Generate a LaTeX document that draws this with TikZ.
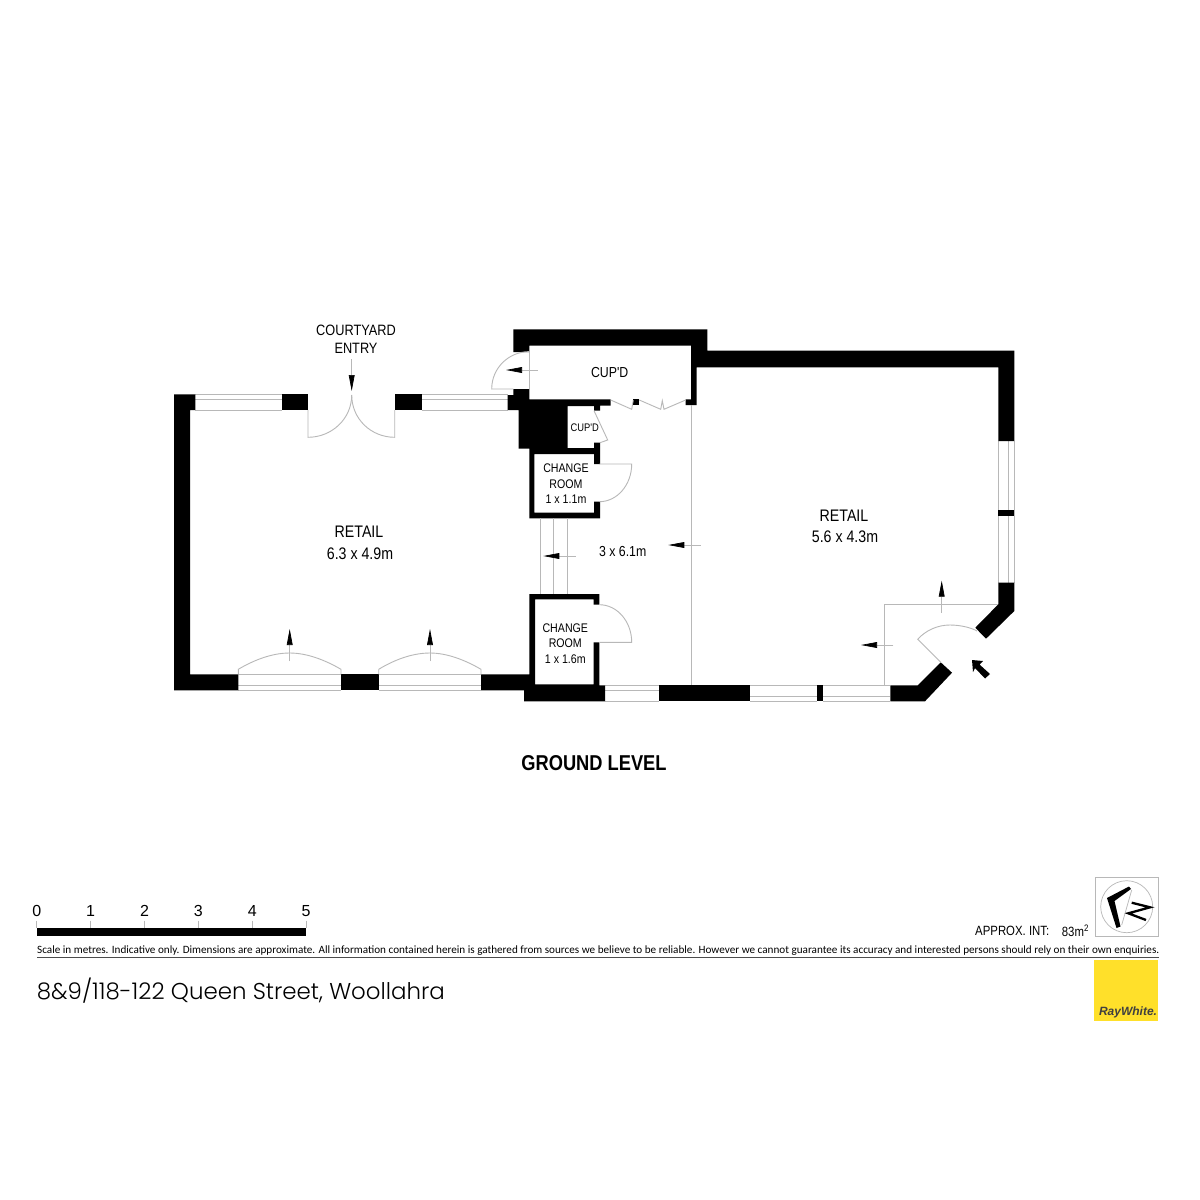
\documentclass[tikz,border=0pt]{standalone}
\usepackage{fontspec}
\usepackage{graphicx}
\usetikzlibrary{arrows.meta}
\setmainfont{Liberation Sans}
\newfontfamily\plan[FakeStretch=0.85]{Liberation Sans}
\newfontfamily\notefont{Carlito}
\newfontfamily\addr{Poppins Light}
\definecolor{linegrey}{HTML}{B8B8B8}
\definecolor{rayyellow}{HTML}{FFE02A}
\tikzset{
  wall/.style={fill=black,draw=none},
  thin line/.style={draw=linegrey,line width=0.9pt},
  dirarrow/.style={draw=linegrey,line width=0.7pt,-{Triangle[length=16pt,width=5.8pt,fill=black,color=black]}},
  lbl/.style={inner sep=0pt,align=center,text=black},
  planlbl/.style={lbl,font=\plan\fontsize{#1}{#1}\selectfont},
}
\begin{document}
\begin{tikzpicture}[x=1pt,y=-1pt]
\useasboundingbox (0,0) rectangle (1200,1200);
\fill[white] (0,0) rectangle (1200,1200);

% windows
\foreach \xa/\xb/\ya/\ym/\yb in {195.3/281.7/394.3/399.3/410, 421.7/507.7/394.3/399.3/410,
  238.3/341/674.3/685.3/690.3, 378.7/481/674.3/685.3/690.3,
  605/658.7/685.3/690.7/701.3, 750.3/817.3/685.3/696.7/701.3, 823/890.3/685.3/696.7/701.3}{
  \draw[thin line] (\xa,\ya) -- (\xb,\ya) (\xa,\ym) -- (\xb,\ym) (\xa,\yb) -- (\xb,\yb);
}
\draw[thin line] (998.3,441) -- (998.3,582.7) (1008.7,441) -- (1008.7,582.7) (1014.3,441) -- (1014.3,582.7);

% walls
\fill[wall] (174,394.3) -- (195.3,394.3) -- (195.3,410) -- (190,410) -- (190,674.3) -- (238.3,674.3) -- (238.3,690.3) -- (174,690.3) -- cycle;
\fill[wall] (281.7,394.3) rectangle (308,410);
\fill[wall] (394.7,394.3) rectangle (421.7,410);
\fill[wall] (341,674.3) rectangle (378.7,690.3);
\fill[wall] (529.3,594) -- (599.3,594) -- (599.3,604.7) -- (593.7,604.7) -- (593.7,599.3) -- (535,599.3) -- (535,684.3) -- (593.7,684.3) -- (593.7,642.3) -- (599.3,642.3) -- (599.3,685.3) -- (605,685.3) -- (605,701.3) -- (524,701.3) -- (524,690.3) -- (481,690.3) -- (481,674.3) -- (529.3,674.3) -- cycle;
\fill[wall] (513.3,329.3) -- (707.3,329.3) -- (707.3,350.7) -- (1014.3,350.7) -- (1014.3,441) -- (998.3,441) -- (998.3,367.3) -- (696.7,367.3) -- (696.7,405) -- (685.7,405) -- (685.7,399.3) -- (691,399.3) -- (691,345.7) -- (529.3,345.7) -- (529.3,352) -- (513.3,352) -- cycle;
\fill[wall] (513.3,389) -- (529.3,389) -- (529.3,399.3) -- (610.7,399.3) -- (610.7,405.7) -- (600,405.7) -- (600,410.7) -- (594,410.7) -- (594,406) -- (567.7,406) -- (567.7,448) -- (594,448) -- (594,442.7) -- (600,442.7) -- (600,464) -- (594,464) -- (594,454) -- (534.3,454) -- (534.3,512.7) -- (594,512.7) -- (594,501.7) -- (600,501.7) -- (600,518.3) -- (529.3,518.3) -- (529.3,448.7) -- (518.7,448.7) -- (518.7,410) -- (507.7,410) -- (507.7,395) -- (513.3,395) -- cycle;
\fill[wall] (633.3,399.3) rectangle (639.3,405.3);
\fill[wall] (658.7,685.3) rectangle (750.3,701.3);
\fill[wall] (817.3,685.3) rectangle (823,701.3);
\fill[wall] (890.3,685.3) -- (917.7,685.3) -- (940.7,662.3) -- (952,672.7) -- (925,701.3) -- (890.3,701.3) -- cycle;
\fill[wall] (998.3,582.7) -- (1014.3,582.7) -- (1014.3,611) -- (986,638.7) -- (975.3,627.7) -- (998.3,604.3) -- cycle;
\fill[wall] (998.3,510) rectangle (1014.3,516);

% doors and thin construction lines
\draw[thin line] (308,410) -- (308,437.3) .. controls (331.8,437.3) and (351.7,418.8) .. (351.7,395);
\draw[thin line] (394.7,410) -- (394.7,437.3) .. controls (371,437.3) and (351.7,418.8) .. (351.7,395);
\draw[thin line] (529.3,351.6) -- (529.3,389);
\draw[thin line] (529.3,351.6) .. controls (508.5,351.6) and (491.7,368.2) .. (491.7,389) -- (513.3,389);
\draw[thin line] (594,410.7) -- (607.7,440) -- (600,442.7);
\draw[thin line] (599.3,464) -- (631.7,464) .. controls (631.7,484.8) and (617.2,501.7) .. (599.3,501.7);
\draw[thin line] (599.3,642.3) -- (631.7,642.3) .. controls (631.7,621.5) and (617.2,604.7) .. (599.3,604.7);
\draw[thin line] (610.7,400) -- (631.7,409.3) -- (633.3,400);
\draw[thin line] (639.3,400) -- (660.7,409.3) -- (662.3,400.7) -- (664,409.3) -- (685.7,400);
\draw[thin line] (691,405) -- (691,685.3);
\draw[thin line] (540.3,518.3) -- (540.3,594) (553.7,518.3) -- (553.7,594) (567.7,518.3) -- (567.7,594);
\draw[thin line] (238.3,674.3) -- (238.3,669.3) .. controls (254,660) and (272,653) .. (289.7,653) .. controls (307,653) and (325,660) .. (341,669.3) -- (341,674.3);
\draw[thin line] (378.7,674.3) -- (378.7,669.3) .. controls (394,660) and (412,653) .. (430,653) .. controls (447,653) and (465,660) .. (481,669.3) -- (481,674.3);
\draw[thin line] (884.7,685.3) -- (884.7,604.3) -- (998.3,604.3);
\draw[thin line] (940.7,662.3) -- (917.7,639.3) .. controls (926,630) and (938,625) .. (950,625) .. controls (961,625) and (972,628) .. (977,631);

% direction arrows
\draw[dirarrow] (351.7,359) -- (351.7,391);
\draw[dirarrow] (537.7,370) -- (506,370);
\draw[dirarrow] (575.7,556) -- (543.3,556);
\draw[dirarrow] (700.7,545) -- (668.3,545);
\draw[dirarrow] (289.7,661) -- (289.7,629);
\draw[dirarrow] (430,661) -- (430,629);
\draw[dirarrow] (941.7,612.7) -- (941.7,580.7);
\draw[dirarrow] (893.3,645) -- (861,645);
\fill[black] (972,660) -- (983,661) -- (979.5,664.5) -- (990,674) -- (985,678.5) -- (975,668) -- (973,672) -- cycle;

% room labels
\node[planlbl=15] (court) at (356,330.5) {COURTYARD};
\node[planlbl=15] (entry) at (356,348) {ENTRY};
\node[planlbl=16.7] (reta) at (359,532) {RETAIL};
\node[planlbl=16.7] (retadim) at (360,554) {6.3 x 4.9m};
\node[planlbl=16.7] (retb) at (844,516) {RETAIL};
\node[planlbl=16.7] (retbdim) at (845,537) {5.6 x 4.3m};
\node[planlbl=14.5] (cupa) at (609.7,373) {CUP'D};
\node[planlbl=11] (cupb) at (584.7,427.3) {CUP'D};
\node[planlbl=12.5] (cha) at (566,468) {CHANGE};
\node[planlbl=12.5] (chb) at (566,484) {ROOM};
\node[planlbl=12.5] (chc) at (566,499) {1 x 1.1m};
\node[planlbl=12.5] (chd) at (565.3,628.3) {CHANGE};
\node[planlbl=12.5] (che) at (565.3,643.3) {ROOM};
\node[planlbl=12.5] (chf) at (565.3,659) {1 x 1.6m};
\node[planlbl=14.5] (hall) at (622.7,551.3) {3 x 6.1m};
\node[lbl,font=\plan\bfseries\fontsize{21.5}{22}\selectfont] (level) at (594,763) {GROUND LEVEL};

% scale bar
\fill[black] (36.7,928) rectangle (306,935.7);
\foreach \n/\x in {0/36.7,1/90.5,2/144.5,3/198.3,4/252.2,5/306}{
  \draw[thin line] (\x,920.7) -- (\x,928);
  \node[lbl,font=\fontsize{16}{16}\selectfont] (s\n) at (\x,911) {\n};
}
\node[lbl,anchor=base west] (note) at (37,953) {\resizebox{1122pt}{!}{\notefont\fontsize{10.3}{11}\selectfont Scale in metres. Indicative only. Dimensions are approximate. All information contained herein is gathered from sources we believe to be reliable. However we cannot guarantee its accuracy and interested persons should rely on their own enquiries.}};
\draw[draw=black!70,line width=1.3pt] (37,957.3) -- (1159,957.3);
\node[lbl,anchor=base west] (address) at (36.7,999) {\resizebox{408pt}{!}{\addr\fontsize{22}{24}\selectfont 8\&9/118-122 Queen Street, Woollahra}};

% area and compass
\node[lbl,anchor=west,font=\plan\fontsize{13.4}{14}\selectfont] (area) at (975,931) {APPROX. INT:};
\node[lbl,anchor=west,font=\plan\fontsize{13.4}{14}\selectfont] (areav) at (1061.7,931) {83m\textsuperscript{2}};
\draw[draw=linegrey,line width=0.8pt] (1095.3,877.3) rectangle (1158.7,936);
\draw[draw=linegrey,line width=0.7pt] (1126.7,906.7) circle (26);
\draw[draw=linegrey,line width=0.7pt] (1131.7,890) -- (1121.7,925);
\fill[black] (1129,886.5) -- (1107,898) -- (1116.5,928) -- (1120.5,926.5) -- (1114.5,901) -- (1131,889) -- cycle;
\draw[black,line width=2.3pt,line join=miter] (1131.7,902.7) -- (1150,907.3) -- (1128.3,913.3) -- (1146,920);

% agency block
\fill[rayyellow] (1094,960) rectangle (1158.3,1021);
\node[lbl,text=black!75,font=\bfseries\itshape\fontsize{12}{12}\selectfont] (ray) at (1128,1012) {RayWhite.};
\end{tikzpicture}
\end{document}
